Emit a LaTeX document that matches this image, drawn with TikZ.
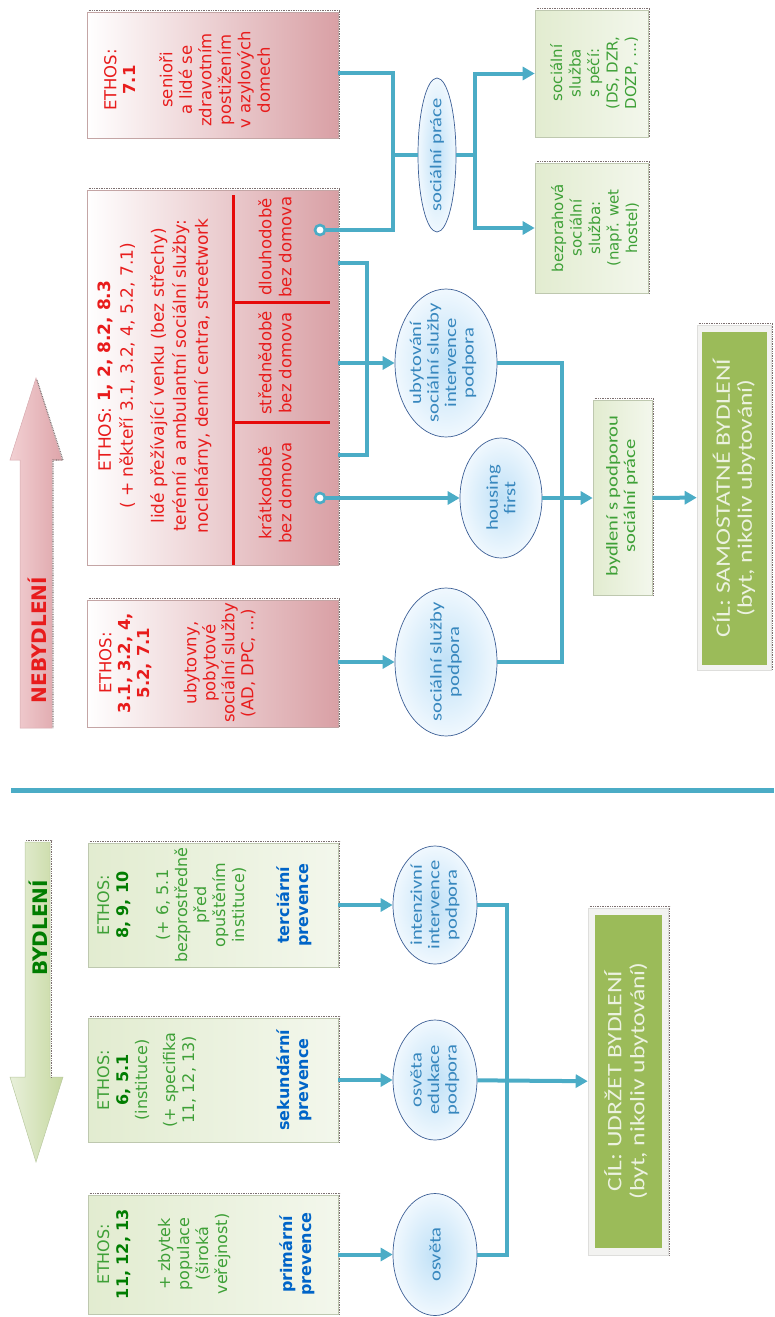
\documentclass[tikz,border=0pt]{standalone}
\usepackage{fontspec}
\setmainfont{DejaVu Sans}
\newfontfamily\calfont[FakeStretch=1.25]{Carlito}
\usetikzlibrary{arrows.meta,shapes.geometric,calc}
\definecolor{conn}{RGB}{75,172,198}
\definecolor{redtxt}{RGB}{232,28,28}
\definecolor{redln}{RGB}{230,10,10}
\definecolor{redfill}{RGB}{217,160,165}
\definecolor{redborder}{RGB}{196,165,165}
\definecolor{grfillL}{RGB}{226,236,208}
\definecolor{grfillR}{RGB}{243,247,236}
\definecolor{grborder}{RGB}{190,200,175}
\definecolor{grtxt}{RGB}{62,160,55}
\definecolor{grbold}{RGB}{0,125,0}
\definecolor{bluetxt}{RGB}{0,100,200}
\definecolor{elltxt}{RGB}{55,135,190}
\definecolor{ellin}{RGB}{192,225,247}
\definecolor{ellout}{RGB}{240,248,254}
\definecolor{ellborder}{RGB}{60,95,150}
\definecolor{goalfill}{RGB}{155,187,89}
\definecolor{goaltxt}{RGB}{236,242,224}
\definecolor{shadowc}{RGB}{125,112,112}
\definecolor{arrRL}{RGB}{242,208,211}
\definecolor{arrRR}{RGB}{222,165,170}
\definecolor{arrGL}{RGB}{232,240,218}
\definecolor{arrGR}{RGB}{198,216,160}
\newcommand\edgeshadow[1]{\draw[shadowln] ($(#1.north west)+(2,-1.5)$) -- ($(#1.north east)+(1.5,-1.5)$) -- ($(#1.south east)+(1.5,0)$);}
\begin{document}
\begin{tikzpicture}[x=1pt,y=-1pt,
 redbox/.style={rectangle, draw=redborder, line width=0.6pt, left color=white, right color=redfill, inner sep=0pt},
 grbox/.style={rectangle, draw=grborder, line width=0.6pt, left color=grfillL, right color=grfillR, inner sep=0pt},
 ell/.style={ellipse, draw=ellborder, line width=0.7pt, inner color=ellin, outer color=ellout, inner sep=0pt},
 conline/.style={draw=conn, line width=4pt},
 arr/.style={conline, -{Triangle[length=12pt,width=13pt]}},
 dotc/.style={circle, draw=conn, line width=2.6pt, fill=white, minimum size=10pt, inner sep=0pt},
 rtxt/.style={rotate=90, align=center, inner sep=0pt, text=redtxt, font=\fontsize{16.5}{19.5}\selectfont},
 gtxt/.style={rotate=90, align=center, inner sep=0pt, text=grtxt, font=\fontsize{16}{19}\selectfont},
 etxt/.style={rotate=90, align=center, inner sep=0pt, text=elltxt, font=\calfont\fontsize{16.5}{17.5}\selectfont},
 gltxt/.style={rotate=90, align=center, inner sep=0pt, text=goaltxt, font=\calfont\fontsize{20.5}{23}\selectfont},
 goalframe/.style={rectangle, fill={rgb,255:red,243;green,243;blue,241}, draw={rgb,255:red,222;green,222;blue,220}, line width=0.6pt, inner sep=0pt},
 goalbox/.style={rectangle, fill=goalfill, inner sep=0pt},
 redline/.style={draw=redln, line width=3pt},
 shadowln/.style={draw=shadowc, line width=1.1pt, dash pattern=on 0.8pt off 0.9pt},
]
\useasboundingbox (0,0) rectangle (774,1317);

% ---------- big arrows ----------
\path[left color=arrRL, right color=arrRR, draw={rgb,255:red,215;green,170;blue,175}, line width=0.5pt]
  (36,378) -- (62,460) -- (52,460) -- (52,728) -- (20,728) -- (20,460) -- (10,460) -- cycle;
\draw[shadowln] (37,380) -- (63,460) -- (53,460) -- (53,728);
\node[rotate=90, inner sep=0pt, text=redtxt, font=\bfseries\fontsize{20}{22}\selectfont] (nebT) at (37,640) {NEBYDLENÍ};

\path[left color=arrGL, right color=arrGR, draw={rgb,255:red,185;green,200;blue,160}, line width=0.5pt]
  (25,842) -- (50,842) -- (50,1077) -- (63,1077) -- (36,1162) -- (10,1077) -- (25,1077) -- cycle;
\draw[shadowln] (26,840.5) -- (51.5,840.5) -- (51.5,1077);
\node[rotate=90, inner sep=0pt, text=grbold, font=\bfseries\fontsize{20}{22}\selectfont] (bydT) at (38,928) {BYDLENÍ};

% ---------- separator ----------
\coordinate (sepL) at (11,790);
\coordinate (sepR) at (774,790);
\draw[draw=conn, line width=5pt] (sepL) -- (sepR);

% ---------- red boxes ----------
\node[redbox, minimum width=251pt, minimum height=126pt] (boxA) at (212.5,75) {};
\node[redbox, minimum width=251pt, minimum height=375pt] (boxB) at (212.5,377.5) {};
\node[redbox, minimum width=251pt, minimum height=127pt] (boxC) at (212.5,663.5) {};
\edgeshadow{boxA}\edgeshadow{boxB}\edgeshadow{boxC}

\node[rtxt, anchor=north] (boxAt) at (104,80)
 {ETHOS:\\\textbf{7.1}\\[17pt]senioři\\a lidé se\\zdravotním\\postižením\\v azylových\\domech};
\node[rtxt, anchor=north, font=\fontsize{17}{22}\selectfont] (boxBt) at (98,376)
 {ETHOS: \textbf{1, 2, 8.2, 8.3}\\( + někteří 3.1, 3.2, 4, 5.2, 7.1)\\[9pt]lidé přežívající venku (bez střechy)\\terénní a ambulantní sociální služby:\\noclehárny, denní centra, streetwork};
\draw[redline] (233,195) -- (233,565);
\draw[redline] (233,302) -- (330,302);
\draw[redline] (233,422) -- (330,422);
\node[rtxt, font=\fontsize{16.5}{20}\selectfont] (dlT) at (275,247) {dlouhodobě\\bez domova};
\node[rtxt, font=\fontsize{16.5}{20}\selectfont] (stT) at (275,363) {střednědobě\\bez domova};
\node[rtxt, font=\fontsize{16.5}{20}\selectfont] (krT) at (275,493) {krátkodobě\\bez domova};
\node[rtxt, anchor=north, font=\fontsize{16.5}{19}\selectfont] (boxCt) at (99,663)
 {ETHOS:\\\textbf{3.1, 3.2, 4,}\\\textbf{5.2, 7.1}\\[28pt]ubytovny,\\pobytové\\sociální služby\\(AD, DPC, …)};

\node[dotc] (cDL) at (320,230) {};
\node[dotc] (cKR) at (320,498) {};

% ---------- green boxes top right ----------
\node[grbox, minimum width=113pt, minimum height=127pt] (boxD) at (591.5,73.5) {};
\node[grbox, minimum width=113pt, minimum height=130pt] (boxE) at (591.5,228) {};
\edgeshadow{boxD}\edgeshadow{boxE}
\node[gtxt, font=\fontsize{15}{18.5}\selectfont] (boxDt) at (594,73) {sociální\\služba\\s péčí:\\(DS, DZR,\\DOZP, …)};
\node[gtxt, font=\fontsize{15}{18.5}\selectfont] (boxEt) at (595,228) {bezprahová\\sociální\\služba:\\(např. wet\\hostel)};

% ---------- ellipses top ----------
\node[ell, minimum width=38pt, minimum height=154pt] (eSP) at (437,155) {};
\node[etxt] (eSPt) at (437,155) {sociální práce};
\node[ell, minimum width=102pt, minimum height=148pt] (eUB) at (446,363) {};
\node[etxt] (eUBt) at (443,363) {ubytování\\sociální služby\\intervence\\podpora};
\node[ell, minimum width=82pt, minimum height=120pt] (eHF) at (501,498) {};
\node[etxt] (eHFt) at (501,498) {housing\\first};
\node[ell, minimum width=102pt, minimum height=148pt] (eSS) at (446,662) {};
\node[etxt] (eSSt) at (446,662) {sociální služby\\podpora};

% ---------- bydlení box and goal 1 ----------
\node[grbox, minimum width=59pt, minimum height=195pt] (bSP) at (622.5,498) {};
\edgeshadow{bSP}
\node[etxt, text=grtxt] (bSPt) at (622,496) {bydlení s podporou\\sociální práce};
\node[goalframe, minimum width=74pt, minimum height=345pt] (g1f) at (734,497.5) {};
\edgeshadow{g1f}
\node[goalbox, minimum width=65pt, minimum height=333pt] (g1) at (734.5,498.5) {};
\node[gltxt, font=\calfont\fontsize{20.5}{22}\selectfont] (g1t) at (734,498) {CÍL: SAMOSTATNÉ BYDLENÍ\\(byt, nikoliv ubytování)};

% ---------- connectors top ----------
\coordinate (jA) at (393,155);
\coordinate (jB) at (475,155);
\coordinate (jC) at (367,363);
\coordinate (jD) at (562,498);
\draw[conline] (boxA.east |- 0,73) -| (jA) |- (cDL);
\draw[conline] (jA) -- (eSP);
\draw[conline] (eSP) -- (jB);
\draw[arr] (jB) |- (boxD);
\draw[arr] (jB) |- (boxE);
\draw[conline] (boxB.east |- 0,263) -| (jC) |- (boxB.east |- 0,455);
\draw[arr] (boxB.east |- 0,363) -- (eUB);
\draw[arr] (cKR) -- (eHF);
\draw[arr] (boxC.east |- 0,662) -- (eSS);
\draw[conline] (eUB) -| (jD) |- (eSS);
\draw[arr] (eHF) -- (bSP);
\draw[arr] (bSP) -- (g1f);

% ---------- green boxes bottom ----------
\node[grbox, minimum width=250pt, minimum height=124pt] (boxF) at (213,905) {};
\node[grbox, minimum width=250pt, minimum height=124pt] (boxG) at (213,1080) {};
\node[grbox, minimum width=250pt, minimum height=119pt] (boxH) at (213,1254.5) {};
\edgeshadow{boxF}\edgeshadow{boxG}\edgeshadow{boxH}
\node[gtxt, anchor=north] (boxFt) at (97,905)
 {ETHOS:\\{\color{grbold}\textbf{8, 9, 10}}\\[21pt](+ 6, 5.1\\bezprostředně\\před\\opuštěním\\instituce)\\[26pt]{\color{bluetxt}\textbf{terciární}}\\{\color{bluetxt}\textbf{prevence}}};
\node[gtxt, anchor=north] (boxGt) at (97,1080)
 {ETHOS:\\{\color{grbold}\textbf{6, 5.1}}\\(instituce)\\[9pt](+ specifika\\11, 12, 13)\\[76pt]{\color{bluetxt}\textbf{sekundární}}\\{\color{bluetxt}\textbf{prevence}}};
\node[gtxt, anchor=north] (boxHt) at (97,1254)
 {ETHOS:\\{\color{grbold}\textbf{11, 12, 13}}\\[23pt]+ zbytek\\populace\\(široká\\veřejnost)\\[46pt]{\color{bluetxt}\textbf{primární}}\\{\color{bluetxt}\textbf{prevence}}};

% ---------- ellipses bottom ----------
\node[ell, minimum width=84pt, minimum height=118pt] (eII) at (435,905) {};
\node[etxt] (eIIt) at (435,905) {intenzivní\\intervence\\podpora};
\node[ell, minimum width=84pt, minimum height=120pt] (eOE) at (435,1080) {};
\node[etxt] (eOEt) at (435,1080) {osvěta\\edukace\\podpora};
\node[ell, minimum width=84pt, minimum height=122pt] (eO) at (435,1254.5) {};
\node[etxt] (eOt) at (435,1254.5) {osvěta};

% ---------- goal 2 ----------
\node[goalframe, minimum width=80pt, minimum height=347pt] (g2f) at (628,1081.5) {};
\edgeshadow{g2f}
\node[goalbox, minimum width=67pt, minimum height=333pt] (g2) at (628.5,1081.5) {};
\node[gltxt] (g2t) at (626,1081) {CÍL: UDRŽET BYDLENÍ\\(byt, nikoliv ubytování)};

% ---------- connectors bottom ----------
\coordinate (jE) at (507,1080);
\draw[arr] (boxF) -- (eII);
\draw[arr] (boxG) -- (eOE);
\draw[arr] (boxH) -- (eO);
\draw[conline] (eII) -| (jE) |- (eO);
\draw[arr] (eOE) -- (g2f);
\end{tikzpicture}
\end{document}
